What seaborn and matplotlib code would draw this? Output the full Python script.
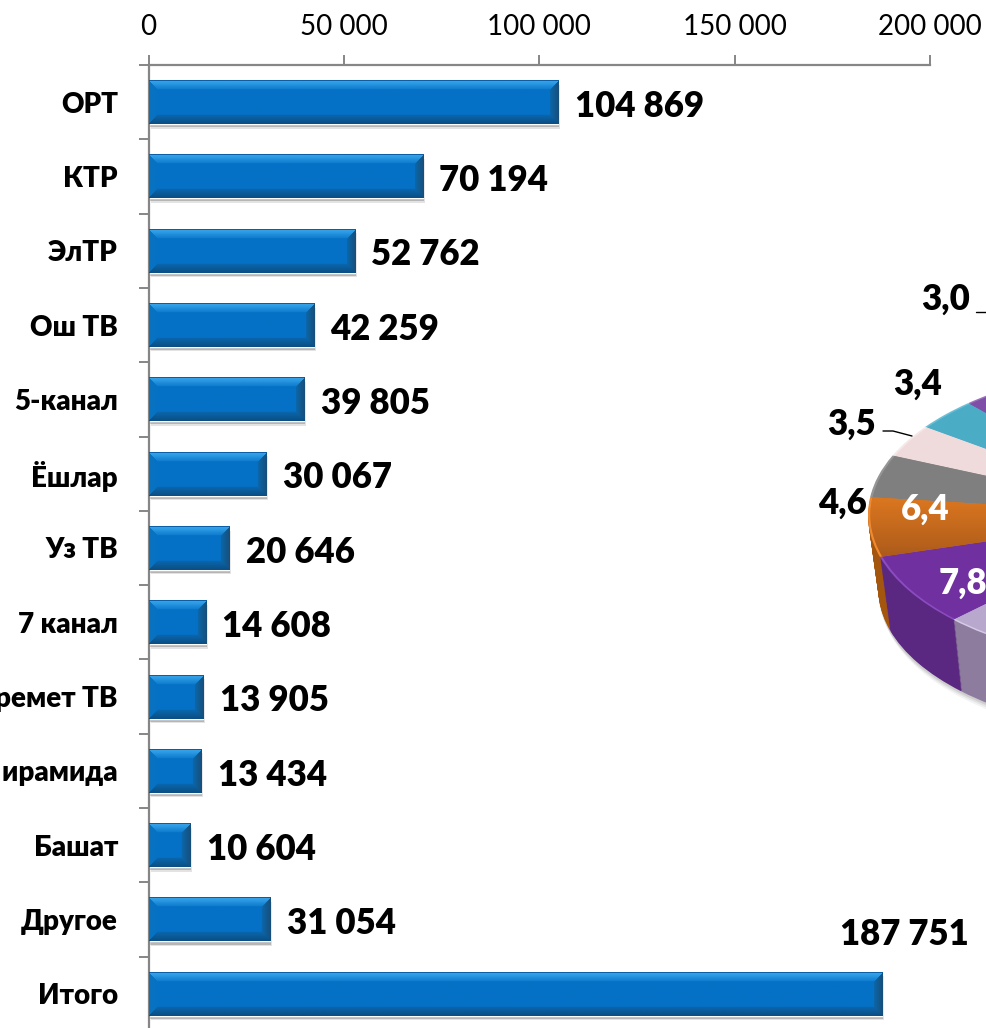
import numpy as np
import matplotlib
matplotlib.use("Agg")
import matplotlib.pyplot as plt
import matplotlib.patheffects as pe
from matplotlib.colors import to_rgb
import seaborn as sns

# -------------------------
# DATA
# -------------------------
channels = ['ОРТ', 'КТР', 'ЭлТР', 'Ош ТВ', '5-канал', 'Ёшлар', 'Уз ТВ', '7 канал',
            'Керемет ТВ', 'Пирамида', 'Башат', 'Другое', 'Итого']
reach = [104869, 70194, 52762, 42259, 39805, 30067, 20646, 14608,
         13905, 13434, 10604, 31054, 187751]
x_ticks = [0, 50000, 100000, 150000, 200000]

# visible pie slices, the last one stands for everything cut off by the picture
pie_shares = [3.0, 3.4, 3.5, 4.6, 6.4, 7.8, 71.3]
pie_top = ['#7F4FA8', '#4BACC6', '#EFDBDB', '#7F7F7F', '#D9721F', '#7030A0', '#B8A8CE']
pie_side = ['#5B2A82', '#35808F', '#B5A0A0', '#5F5F5F', '#A4560E', '#5A2880', '#8E7C9F']
pie_rim = ['#9A70BE', '#6CC0D6', '#F7E8E8', '#959595', '#F08A30', '#8A4CC0', '#D6CBE6']

W, H = 987, 1028
FONT = 'Lato'
HEAVY = 'heavy'


def fmt(v):
    return f"{v:,}".replace(",", " ")


def px_axes(left, top, right, bottom):
    return fig.add_axes([left / W, 1 - bottom / H, (right - left) / W, (bottom - top) / H])


def bevel_image(w, h):
    # mitred bevel, like the office "shape effect" on the bars
    t = 9
    j, i = np.meshgrid(np.arange(w), np.arange(h))
    dist = np.stack([i, h - 1 - i, j, w - 1 - j])
    side = dist.argmin(axis=0)
    d = np.clip(dist.min(axis=0) / t, 0, 1)[..., None]
    mid = np.array(to_rgb('#0571C6'))
    edge = np.array([to_rgb(c) for c in ['#3AA8EE', '#0B4F85', '#0A73BE', '#174F7C']])
    inner = np.array([to_rgb(c) for c in ['#0B78CB', '#0A68B0', '#0571C6', '#0A69AE']])
    img = edge[side] * (1 - d) + inner[side] * d
    img[dist.min(axis=0) >= t] = mid
    img[0, :] = to_rgb('#0A5FA6')
    return img


sns.set_theme(style="white")
plt.rcParams['font.family'] = [FONT, 'Open Sans', 'DejaVu Sans']

fig = plt.figure(figsize=(W / 100, H / 100), dpi=100)

# -------------------------
# BARS
# -------------------------
ax = px_axes(148.5, 65, 930, 1031)
sns.barplot(x=reach, y=channels, color='#0571C6', width=0.59, orient='h', ax=ax)
ax.set_xlim(0, 200000)
ax.set_ylim(len(channels) - 0.5, -0.5)
ax.set_autoscale_on(False)
ax.set_xlabel('')
ax.set_ylabel('')

ax.xaxis.tick_top()
ax.set_xticks(x_ticks)
ax.set_xticklabels([fmt(v) for v in x_ticks])
ax.tick_params(axis='x', length=7, width=1.4, color='#868686', pad=11, labelsize=20,
               labelcolor='black', top=True)
ax.set_yticks(np.arange(-0.5, len(channels)), minor=True)
ax.tick_params(axis='y', which='major', length=0, pad=22, labelsize=20, labelcolor='black')
ax.tick_params(axis='y', which='minor', length=7, width=1.4, color='#868686', left=True)
for lab in ax.get_yticklabels():
    lab.set_fontweight(HEAVY)

for s in ['right', 'bottom']:
    ax.spines[s].set_visible(False)
for s in ['top', 'left']:
    ax.spines[s].set_color('#868686')
    ax.spines[s].set_linewidth(1.6)

px_per_unit = (930 - 148.5) / 200000
px_per_cat = (1031 - 65) / len(channels)
for p in ax.patches:
    x0, y0, bw, bh = p.get_x(), p.get_y(), p.get_width(), p.get_height()
    p.set_path_effects([
        pe.SimplePatchShadow(offset=(1.5, -3.2), alpha=0.12, shadow_rgbFace='k'),
        pe.SimplePatchShadow(offset=(0.8, -2.2), alpha=0.22, shadow_rgbFace='k'),
        pe.Normal()])
    img = bevel_image(int(bw * px_per_unit), int(bh * px_per_cat))
    ax.imshow(img, extent=(x0, x0 + bw, y0 + bh, y0), aspect='auto', zorder=3,
              interpolation='bilinear')

labels = [fmt(v) for v in reach[:-1]] + ['']
texts = ax.bar_label(ax.containers[0], labels=labels, padding=12, fontsize=25, fontweight=HEAVY,
                     color='black', zorder=5)
for t in texts:
    t.xyann = (12, -3)
ax.annotate(fmt(reach[-1]), xy=(reach[-1], len(channels) - 1), xytext=(16, 43),
            textcoords='offset points', ha='center', va='center', fontsize=25,
            fontweight=HEAVY, color='black')

# -------------------------
# PIE (cut off by the right edge)
# -------------------------
a_px, b_px, depth_px = 300, 150, 75
cx_px, cy_px = 868 + a_px, 515
pad = 0.05
pie_ax = px_axes(cx_px - a_px * (1 + pad), cy_px - b_px * (1 + pad),
                 cx_px + a_px * (1 + pad), cy_px + b_px + depth_px + 30)
pie_ax.patch.set_alpha(0)
depth = depth_px / b_px
start = 121
base_radius = 0.965

for k, alpha in enumerate([0.05, 0.07, 0.10]):
    pie_ax.pie(pie_shares, colors=['k'] * len(pie_shares), startangle=start,
               center=(0.004 * (2 - k), -depth - 0.05 + 0.017 * k), radius=base_radius,
               wedgeprops={'alpha': alpha, 'linewidth': 0})
for dz in np.linspace(depth, 0.01, 60):
    r = base_radius + (1 - base_radius) * (1 - dz / depth)
    pie_ax.pie(pie_shares, colors=pie_side, startangle=start, center=(0, -dz), radius=r,
               wedgeprops={'linewidth': 0})
pie_ax.pie(pie_shares, colors=pie_rim, startangle=start, wedgeprops={'linewidth': 0})
wedges, _ = pie_ax.pie(pie_shares, colors=pie_top, startangle=start, radius=0.992,
                       wedgeprops={'linewidth': 0})

pie_ax.set_xlim(-1 - pad, 1 + pad)
pie_ax.set_ylim(-(b_px + depth_px + 30) / b_px, 1 + pad)
pie_ax.set_aspect('auto')
pie_ax.set_autoscale_on(False)

# orange slice fades downward
grad = np.linspace(0, 1, 64)[:, None, None]
orange = np.array(to_rgb('#E07A20')) * (1 - grad) + np.array(to_rgb('#A8581A')) * grad
im = pie_ax.imshow(orange, extent=(-1.05, 0, -0.32, 0.16), aspect='auto', zorder=4)
im.set_clip_path(wedges[4])


def ftext(x, y, s, color='black'):
    fig.text(x / W, 1 - y / H, s, ha='center', va='center', fontsize=25,
             fontweight=HEAVY, color=color, zorder=10)


ftext(946, 299, '3,0')
ftext(918, 384, '3,4')
ftext(852, 424, '3,5')
ftext(842, 503, '4,6')
ftext(925, 509, '6,4', 'white')
ftext(963, 583, '7,8', 'white')

# leader lines
fig.add_artist(plt.Line2D([976 / W, 987 / W], [1 - 312 / H, 1 - 312 / H], color='black', lw=1))
fig.add_artist(plt.Line2D([883 / W, 893 / W, 912 / W], [1 - 431 / H, 1 - 431 / H, 1 - 436 / H],
                          color='black', lw=1))

plt.savefig("out.png", dpi=100)
